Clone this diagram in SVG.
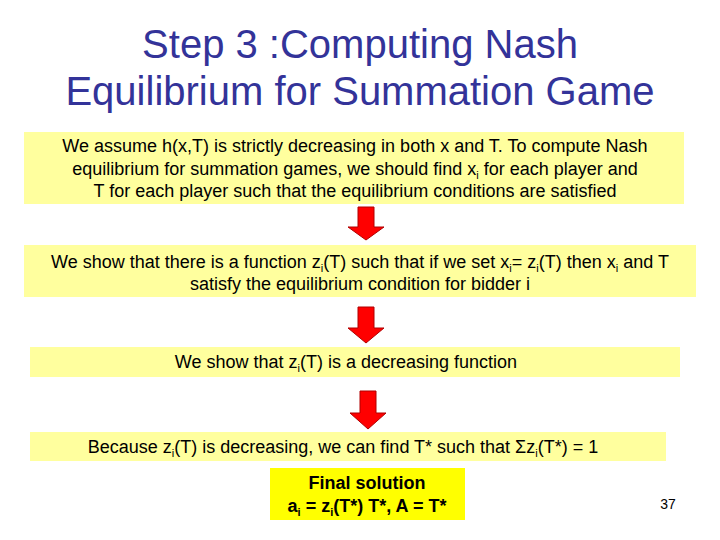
<svg xmlns="http://www.w3.org/2000/svg" width="720" height="540" viewBox="0 0 720 540">
<style>
.title{font-family:"Liberation Sans",Arial,sans-serif;font-size:40px;fill:#333399;text-anchor:middle}
.box{fill:#FFFF9E}
.fin{fill:#FFFF00}
.t{font-family:"Liberation Sans",Arial,sans-serif;font-size:18px;fill:#000;text-anchor:middle}
.b{font-weight:bold}
.sub{font-size:11px}
.arr{fill:#FF0000;stroke:#B00000;stroke-width:1}
</style>
<rect width="720" height="540" fill="#fff"/>
<text class="title" x="360" y="58">Step 3 :Computing Nash</text>
<text class="title" x="360" y="105">Equilibrium for Summation Game</text>

<g id="connectors">
<path class="arr" d="M358,207 H374 V227 H384 L366,240 L348,227 H358 Z"/>
<path class="arr" d="M358,307 H374 V328 H384 L366,343 L348,328 H358 Z"/>
<path class="arr" d="M360,391 H376 V413 H386 L368,429 L350,413 H360 Z"/>
</g>

<g id="node1">
<rect class="box" x="24" y="132" width="660" height="72"/>
<text class="t" x="355" y="152">We assume h(x,T) is strictly decreasing in both x and T. To compute Nash</text>
<text class="t" x="355" y="175">equilibrium for summation games, we should find x<tspan class="sub" dy="4">i</tspan><tspan dy="-4"> for each player and</tspan></text>
<text class="t" x="355" y="197">T for each player such that the equilibrium conditions are satisfied</text>
</g>

<g id="node2">
<rect class="box" x="24" y="245" width="672" height="52"/>
<text class="t" x="360" y="268">We show that there is a function z<tspan class="sub" dy="4">i</tspan><tspan dy="-4">(T)  such that if we set x</tspan><tspan class="sub" dy="4">i</tspan><tspan dy="-4">= z</tspan><tspan class="sub" dy="4">i</tspan><tspan dy="-4">(T) then x</tspan><tspan class="sub" dy="4">i</tspan><tspan dy="-4"> and T</tspan></text>
<text class="t" x="360" y="290">satisfy the equilibrium condition for bidder i</text>
</g>

<g id="node3">
<rect class="box" x="30" y="347" width="650" height="30"/>
<text class="t" x="346" y="368">We show that z<tspan class="sub" dy="4">i</tspan><tspan dy="-4">(T) is a decreasing function</tspan></text>
</g>

<g id="node4">
<rect class="box" x="30" y="432" width="636" height="29"/>
<text class="t" x="343" y="453">Because z<tspan class="sub" dy="4">i</tspan><tspan dy="-4">(T) is decreasing,  we can find T* such that Σz</tspan><tspan class="sub" dy="4">i</tspan><tspan dy="-4">(T*) = 1</tspan></text>
</g>

<g id="node5">
<rect class="fin" x="270" y="468" width="195" height="52"/>
<text class="t b" x="367" y="489">Final solution</text>
<text class="t b" x="367" y="512">a<tspan class="sub" dy="4">i</tspan><tspan dy="-4"> = z</tspan><tspan class="sub" dy="4">i</tspan><tspan dy="-4">(T*) T*, A = T*</tspan></text>
</g>

<text x="668" y="509" font-family="Liberation Sans, Arial, sans-serif" font-size="14" fill="#000" text-anchor="middle">37</text>
</svg>
